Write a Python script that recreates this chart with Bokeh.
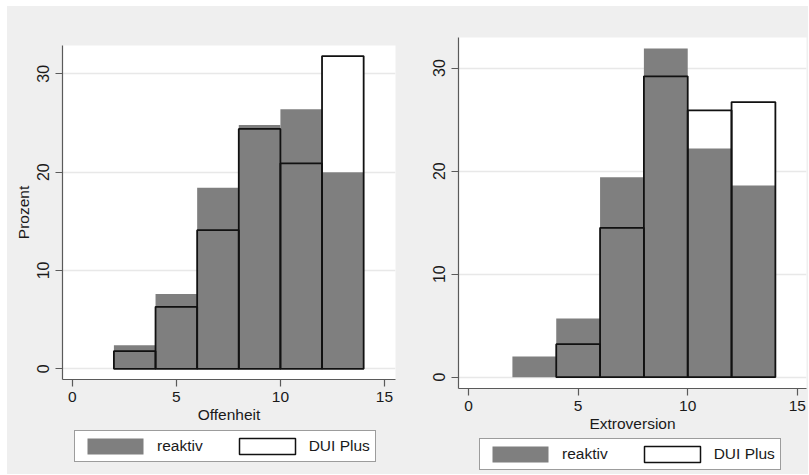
from bokeh.plotting import figure
from bokeh.layouts import row, column
from bokeh.models import Legend, LegendItem, ColumnDataSource
from bokeh.embed import file_html
from bokeh.resources import INLINE

# ---- data (percent per bin, bins of width 2) ----
bin_width = 2
off_reaktiv_left = [2, 4, 6, 8, 10, 12]
off_reaktiv = [2.4, 7.6, 18.4, 24.8, 26.4, 20.0]
off_dui_left = [2, 4, 6, 8, 10, 12]
off_dui = [1.8, 6.3, 14.1, 24.4, 20.9, 31.8]

ext_reaktiv_left = [2, 4, 6, 8, 10, 12]
ext_reaktiv = [2.0, 5.7, 19.4, 31.9, 22.2, 18.6]
ext_dui_left = [4, 6, 8, 10, 12]
ext_dui = [3.2, 14.5, 29.2, 25.9, 26.7]

x_ticks = [0, 5, 10, 15]
y_ticks = [0, 10, 20, 30]
series_names = ["reaktiv", "DUI Plus"]
x_titles = ["Offenheit", "Extroversion"]
y_title = "Prozent"

BG = "#efefef"
GRAY = "#7f7f7f"
FONT = "Liberation Sans"
FS = "15.5px"


def src(lefts, tops):
    return ColumnDataSource(dict(left=lefts, right=[l + bin_width for l in lefts],
                                 top=tops, bottom=[0] * len(tops)))


def make_panel(width, height, xr, yr, mb, rsrc, dsrc, xtitle, ytitle):
    p = figure(width=width, height=height, x_range=xr, y_range=yr,
               output_backend="svg", toolbar_location=None,
               min_border_left=mb[0], min_border_right=mb[1],
               min_border_top=mb[2], min_border_bottom=mb[3])
    p.border_fill_color = BG
    p.background_fill_color = "white"
    p.outline_line_color = None
    p.xgrid.grid_line_color = None
    p.ygrid.grid_line_color = "#e8e8e8"
    p.ygrid.grid_line_width = 1.5
    p.xaxis.ticker = x_ticks
    p.yaxis.ticker = y_ticks
    for ax in (p.xaxis[0], p.yaxis[0]):
        ax.axis_line_color = "#5a5a5a"
        ax.axis_line_width = 1.2
        ax.major_tick_line_color = "#5a5a5a"
        ax.major_tick_line_width = 1.2
        ax.major_tick_out = 7
        ax.major_tick_in = 0
        ax.minor_tick_line_color = None
        ax.major_label_text_font = FONT
        ax.major_label_text_font_size = FS
        ax.major_label_text_color = "#1a1a1a"
        ax.axis_label_text_font = FONT
        ax.axis_label_text_font_size = FS
        ax.axis_label_text_font_style = "normal"
        ax.axis_label_text_color = "#1a1a1a"
    p.yaxis.major_label_orientation = "vertical"
    p.yaxis.major_label_text_font_size = "16px"
    p.xaxis.major_label_standoff = 5
    p.yaxis.major_label_standoff = 6
    p.xaxis.axis_label = xtitle
    p.xaxis.axis_label_standoff = 1
    if ytitle:
        p.yaxis.axis_label = ytitle
        p.yaxis.axis_label_standoff = 3

    p.quad(left="left", right="right", top="top", bottom="bottom", source=dsrc,
           fill_color="white", line_color=None)
    p.quad(left="left", right="right", top="top", bottom="bottom", source=rsrc,
           fill_color=GRAY, line_color=None)
    p.quad(left="left", right="right", top="top", bottom="bottom", source=dsrc,
           fill_color=None, line_color="#111111", line_width=1.8)
    return p


def make_legend(width, height, loc, rsrc, dsrc):
    # legend-only strip; its ranges keep the bars themselves out of view
    lf = figure(width=width, height=height, x_range=(-3, -2), y_range=(-3, -2),
                x_axis_type=None, y_axis_type=None,
                output_backend="svg", toolbar_location=None, min_border=0)
    lf.border_fill_color = BG
    lf.background_fill_color = BG
    lf.outline_line_color = None
    g = lf.quad(left="left", right="right", top="top", bottom="bottom",
                source=rsrc, fill_color=GRAY, line_color=None)
    w = lf.quad(left="left", right="right", top="top", bottom="bottom",
                source=dsrc, fill_color="white", line_color="#111111", line_width=1.5)
    leg = Legend(items=[LegendItem(label=series_names[0], renderers=[g]),
                        LegendItem(label=series_names[1], renderers=[w])],
                 orientation="horizontal", location=loc,
                 glyph_width=70, glyph_height=20, label_height=20,
                 padding=5, spacing=29, label_standoff=7, margin=0,
                 label_text_font=FONT, label_text_font_size=FS, label_text_color="#1a1a1a",
                 border_line_color="#3a3a3a", border_line_width=1.2,
                 background_fill_color="white", background_fill_alpha=1.0)
    lf.add_layout(leg, "center")
    return lf


off_r = src(off_reaktiv_left, off_reaktiv)
off_d = src(off_dui_left, off_dui)
ext_r = src(ext_reaktiv_left, ext_reaktiv)
ext_d = src(ext_dui_left, ext_dui)

left = make_panel(393, 419, (-0.47, 15.53), (-1.09, 32.88), (55, 5, 39, 46),
                  off_r, off_d, x_titles[0], y_title)
left_leg = make_legend(393, 49, (12, 12), off_r, off_d)
right = make_panel(408, 428, (-0.46, 15.42), (-1.10, 32.97), (58, 2, 31, 46),
                   ext_r, ext_d, x_titles[1], None)
right_leg = make_legend(408, 40, (21, 4), ext_r, ext_d)

layout = row(column(left, left_leg), column(right, right_leg),
             margin=(6, 0, 0, 7), styles={"background-color": BG})
open("out.html", "w").write(file_html(layout, INLINE))
